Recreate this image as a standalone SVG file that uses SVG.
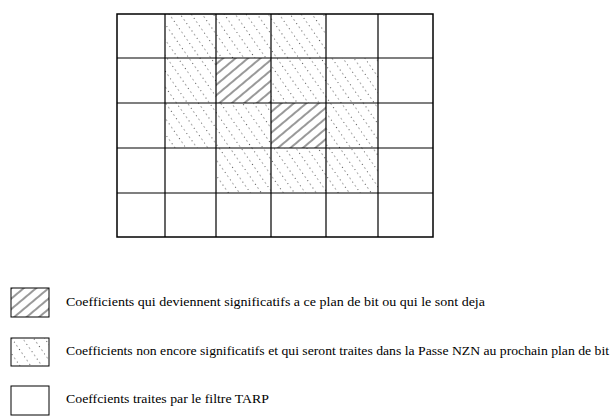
<svg xmlns="http://www.w3.org/2000/svg" width="614" height="416" viewBox="0 0 614 416">
<style>
.cell{fill:none;stroke:#000;stroke-width:1}
.grid{fill:none;stroke:#000;stroke-width:1.2}
.txt{font-size:13.5px;fill:#000}
</style>
<defs>
<pattern id="hatch" patternUnits="userSpaceOnUse" width="8" height="8" patternTransform="rotate(-40)">
<line x1="0" y1="4" x2="8" y2="4" stroke="#000" stroke-width="0.8"/>
</pattern>
<pattern id="dots" patternUnits="userSpaceOnUse" width="9" height="9" patternTransform="rotate(55)">
<line x1="0" y1="4.5" x2="9" y2="4.5" stroke="#444" stroke-width="0.9" stroke-dasharray="1 3.5"/>
</pattern>
</defs>
<g id="grid">
<g id="fills">
<rect x="165" y="14" width="51" height="44" fill="url(#dots)"/>
<rect x="216" y="14" width="55" height="44" fill="url(#dots)"/>
<rect x="271" y="14" width="55" height="44" fill="url(#dots)"/>
<rect x="165" y="58" width="51" height="45" fill="url(#dots)"/>
<rect x="216" y="58" width="55" height="45" fill="url(#hatch)"/>
<rect x="271" y="58" width="55" height="45" fill="url(#dots)"/>
<rect x="326" y="58" width="52" height="45" fill="url(#dots)"/>
<rect x="165" y="103" width="51" height="45" fill="url(#dots)"/>
<rect x="216" y="103" width="55" height="45" fill="url(#dots)"/>
<rect x="271" y="103" width="55" height="45" fill="url(#hatch)"/>
<rect x="326" y="103" width="52" height="45" fill="url(#dots)"/>
<rect x="216" y="148" width="55" height="45" fill="url(#dots)"/>
<rect x="271" y="148" width="55" height="45" fill="url(#dots)"/>
<rect x="326" y="148" width="52" height="45" fill="url(#dots)"/>
</g>
<g id="lines" class="grid">
<rect x="117" y="14" width="316" height="223" stroke-width="1.5"/>
<path d="M165 14V237M216 14V237M271 14V237M326 14V237M378 14V237M117 58H433M117 103H433M117 148H433M117 193H433"/>
</g>
</g>
<g id="legend1">
<rect x="11" y="288" width="38" height="29" fill="url(#hatch)"/>
<rect x="11" y="288" width="38" height="29" class="cell"/>
<text x="66" y="306" class="txt" font-family="'Liberation Serif', 'DejaVu Serif', serif" textLength="419" lengthAdjust="spacingAndGlyphs">Coefficients qui deviennent significatifs a ce plan de bit ou qui le sont deja</text>
</g>
<g id="legend2">
<rect x="11" y="338" width="38" height="28" fill="url(#dots)"/>
<rect x="11" y="338" width="38" height="28" class="cell"/>
<text x="66" y="355" class="txt" font-family="'Liberation Serif', 'DejaVu Serif', serif" textLength="543" lengthAdjust="spacingAndGlyphs">Coefficients non encore significatifs et qui seront traites dans la Passe NZN au prochain plan de bit</text>
</g>
<g id="legend3">
<rect x="11" y="386" width="38" height="29" class="cell"/>
<text x="66" y="403" class="txt" font-family="'Liberation Serif', 'DejaVu Serif', serif" textLength="203" lengthAdjust="spacingAndGlyphs">Coeffcients traites par le filtre TARP</text>
</g>
</svg>
